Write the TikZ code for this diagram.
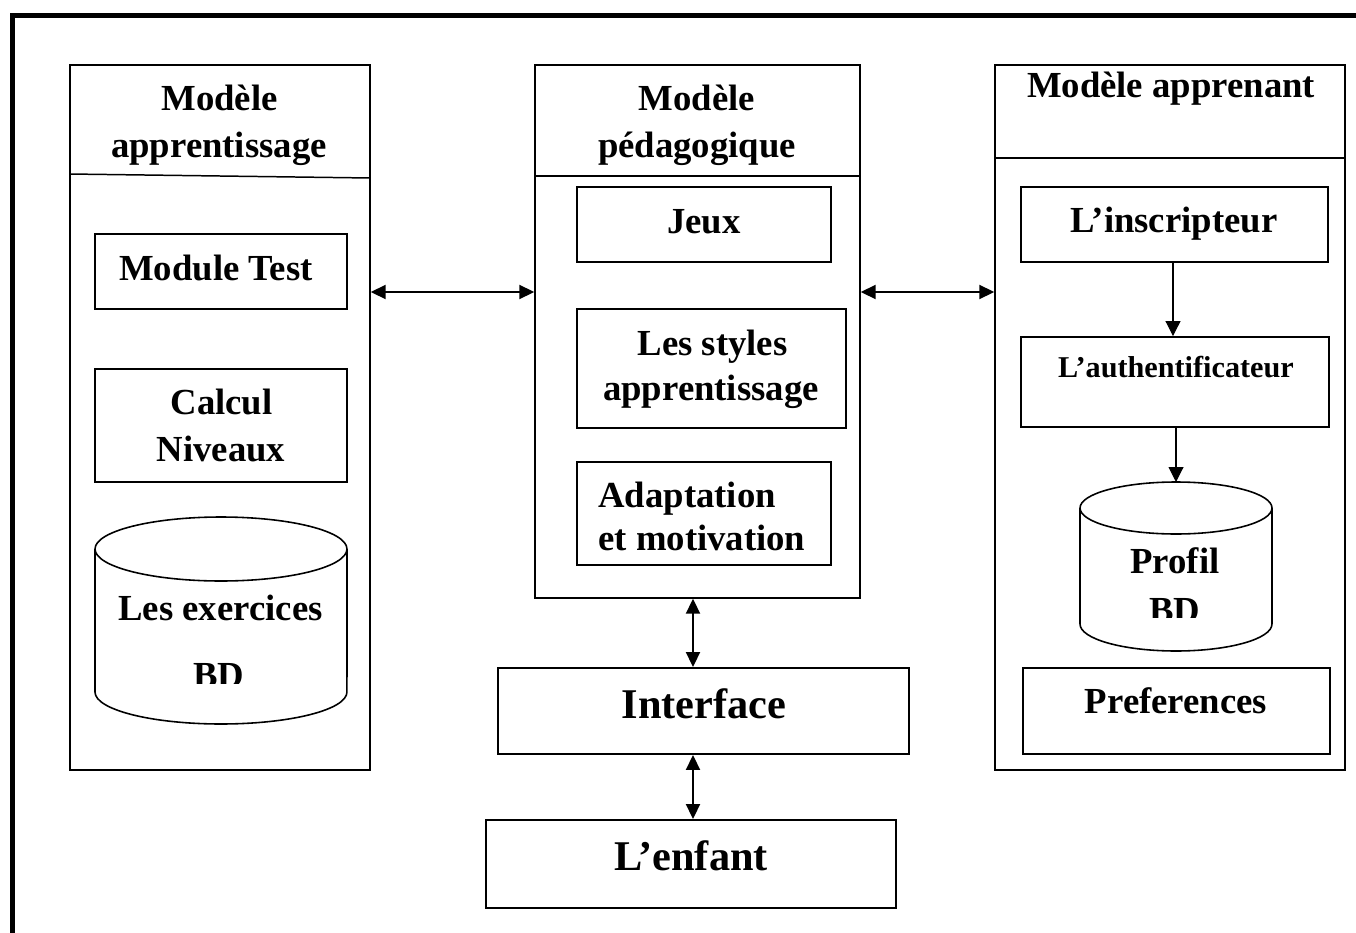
\documentclass[tikz,border=0pt]{standalone}
\usepackage{fontspec}
\setmainfont{Liberation Serif}
\usetikzlibrary{arrows.meta}
\begin{document}
\begin{tikzpicture}[x=0.02cm,y=-0.02cm,
  col/.style={draw, line width=0.85pt, rectangle, inner sep=0pt},
  box/.style={draw, line width=1.1pt, rectangle, inner sep=0pt},
  txt/.style={anchor=base, inner sep=0pt, font=\bfseries\fontsize{20.9}{25}\selectfont},
  bigtxt/.style={txt, font=\bfseries\fontsize{24.1}{29}\selectfont},
  smalltxt/.style={txt, font=\bfseries\fontsize{17.2}{21}\selectfont},
  darr/.style={{Triangle[length=0.3cm,width=0.28cm]}-{Triangle[length=0.3cm,width=0.28cm]}, line width=1.1pt},
  sarr/.style={-{Triangle[length=0.3cm,width=0.3cm]}, line width=0.6pt},
  cyl/.style={line width=0.9pt}
]
\useasboundingbox (0,0) rectangle (1356,933);
% frame
\draw[line width=2.8pt] (12.5,940) -- (12.5,15.5) -- (1360,15.5);

% columns
\node[col, minimum width=6cm, minimum height=14.1cm] (la) at (220,417.5) {};
\node[col, minimum width=6.5cm, minimum height=10.66cm] (mid) at (697.5,331.5) {};
\node[col, minimum width=7cm, minimum height=14.1cm] (ra) at (1170,417.5) {};
\draw[line width=0.85pt] (la.west |- 0,174) -- (la.east |- 0,178);
\draw[line width=0.85pt] (mid.west |- 0,176) -- (mid.east |- 0,176);
\draw[line width=0.85pt] (ra.west |- 0,158) -- (ra.east |- 0,158);

% column titles
\node[txt] (tla1) at (219.5,110) {Modèle};
\node[txt] (tla2) at (219,157) {apprentissage};
\node[txt] (tm1) at (697,110) {Modèle};
\node[txt] (tm2) at (697,157) {pédagogique};
\node[txt] (tra) at (1171,97) {Modèle apprenant};

% left column content
\node[box, minimum width=5.04cm, minimum height=1.5cm] (mt) at (221,271.5) {};
\node[txt] (mtt) at (216,280) {Module Test};
\node[box, minimum width=5.04cm, minimum height=2.26cm] (cn) at (221,425.5) {};
\node[txt] (cn1) at (221.5,414) {Calcul};
\node[txt] (cn2) at (221,461) {Niveaux};
\draw[cyl] (95,549) -- (95,692) arc[start angle=180, end angle=360, x radius=2.52cm, y radius=0.64cm] -- (347,549);
\draw[cyl] (221,549) ellipse[x radius=2.52cm, y radius=0.64cm];
\node[txt] (ex1) at (220.5,620) {Les exercices};
\begin{scope}
\clip (100,600) rectangle (340,683);
\node[txt] (ex2) at (219,687) {BD};
\end{scope}

% middle column content
\node[box, minimum width=5.08cm, minimum height=1.5cm] (jeux) at (704,224.5) {};
\node[txt] (jeuxt) at (704,233) {Jeux};
\node[box, minimum width=5.38cm, minimum height=2.38cm] (sty) at (711.5,368.5) {};
\node[txt] (sty1) at (712.5,355) {Les styles};
\node[txt] (sty2) at (711,400) {apprentissage};
\node[box, minimum width=5.08cm, minimum height=2.06cm] (ada) at (704,513.5) {};
\node[txt, anchor=base west] (ada1) at (598,507) {Adaptation};
\node[txt, anchor=base west] (ada2) at (598,550) {et motivation};

% interface and child
\node[box, minimum width=8.22cm, minimum height=1.72cm] (ifc) at (703.5,711) {};
\node[bigtxt] (ifct) at (704,718) {Interface};
\node[box, minimum width=8.2cm, minimum height=1.76cm] (enf) at (691,864) {};
\node[bigtxt] (enft) at (691,870) {L’enfant};

% right column content
\node[box, minimum width=6.14cm, minimum height=1.5cm] (ins) at (1174.5,224.5) {};
\node[txt] (inst) at (1174,232) {L’inscripteur};
\node[box, minimum width=6.16cm, minimum height=1.8cm] (aut) at (1175,382) {};
\node[smalltxt] (autt) at (1176,377) {L’authentificateur};
\draw[cyl] (1080,508) -- (1080,624) arc[start angle=180, end angle=360, x radius=1.92cm, y radius=0.54cm] -- (1272,508);
\draw[cyl] (1176,508) ellipse[x radius=1.92cm, y radius=0.52cm];
\coordinate (cyltop) at (1176,482);
\node[txt] (pr1) at (1175,573) {Profil};
\begin{scope}
\clip (1090,580) rectangle (1260,617);
\node[txt] (pr2) at (1175,622) {BD};
\end{scope}
\node[box, minimum width=6.14cm, minimum height=1.72cm] (pref) at (1176.5,711) {};
\node[txt] (preft) at (1176,713) {Preferences};

% connectors
\draw[darr] (la.east |- 0,292) -- (mid.west |- 0,292);
\draw[darr] (mid.east |- 0,292) -- (ra.west |- 0,292);
\draw[darr] (693,0 |- mid.south) -- (693,0 |- ifc.north);
\draw[darr] (693,0 |- ifc.south) -- (693,0 |- enf.north);
\draw[sarr] (1173,0 |- ins.south) -- (1173,0 |- aut.north);
\draw[sarr] (1176,0 |- aut.south) -- (cyltop);
\end{tikzpicture}
\end{document}
